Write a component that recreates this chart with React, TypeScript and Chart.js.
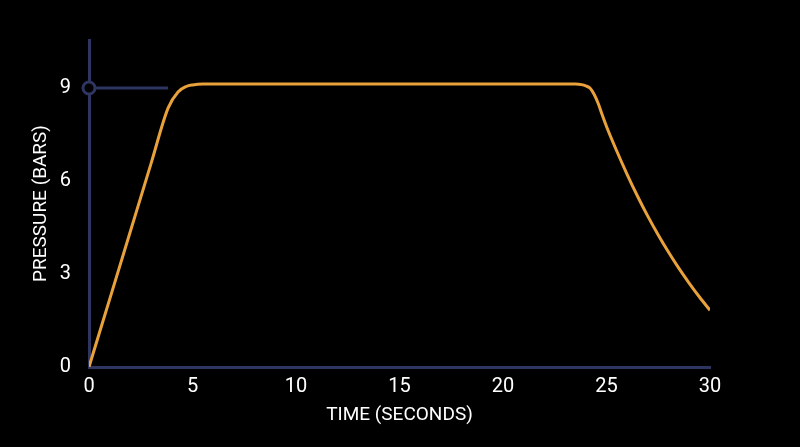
import { useEffect, useRef } from 'react'
import { Chart, registerables, type ChartConfiguration } from 'chart.js'

Chart.register(...registerables)

// pressure profile
const TIME_S = [
  0, 1, 2, 3, 3.82, 4.3, 4.7, 5, 5.5,
  23.5, 23.8, 24, 24.2, 24.4, 24.6, 24.8, 25, 25.5, 26, 26.5, 27, 27.5, 28, 28.5, 29, 29.5, 30,
]
const PRESSURE_BAR = [
  0, 2.19, 4.38, 6.57, 8.35, 8.87, 9.05, 9.1, 9.13,
  9.13, 9.11, 9.07, 9.0, 8.8, 8.5, 8.12, 7.76, 6.96, 6.21, 5.51, 4.86, 4.26, 3.7, 3.18, 2.7, 2.25, 1.83,
]

// target marker line at 9 bar
const TARGET_TIME = [0, 3.82]
const TARGET_PRESSURE = [9, 9]

const X_TICKS = [0, 5, 10, 15, 20, 25, 30]
const Y_TICKS = [0, 3, 6, 9]

const AXIS = '#2d3560'
const ORANGE = '#e9a23b'
const FONT = "'Liberation Sans Narrow', Roboto, sans-serif"

export default function App() {
  const ref = useRef<HTMLCanvasElement>(null)

  useEffect(() => {
    document.body.style.margin = '0'
    document.body.style.background = '#000'
    if (!ref.current) return

    const chart = new Chart(ref.current, {
      type: 'line',
      data: {
        datasets: [
          {
            data: TIME_S.map((t, i) => ({ x: t, y: PRESSURE_BAR[i] })),
            borderColor: ORANGE,
            borderWidth: 3,
            pointRadius: 0,
            cubicInterpolationMode: 'monotone',
            fill: false,
          },
          {
            data: TARGET_TIME.map((t, i) => ({ x: t, y: TARGET_PRESSURE[i] })),
            borderColor: AXIS,
            borderWidth: 3,
            pointRadius: [6, 0],
            pointBorderWidth: 3,
            pointBorderColor: AXIS,
            pointBackgroundColor: '#000',
            clip: false,
            order: -1,
          },
        ],
      },
      options: {
        animation: false,
        responsive: false,
        maintainAspectRatio: false,
        layout: { padding: { left: 0, right: 90, top: 40, bottom: 0 } },
        plugins: { legend: { display: false }, tooltip: { enabled: false } },
        scales: {
          x: {
            type: 'linear',
            min: 0,
            max: 30,
            grid: { display: false, drawTicks: false },
            border: { display: true, color: AXIS, width: 3 },
            afterBuildTicks: (s: any) => { s.ticks = X_TICKS.map(v => ({ value: v })) },
            afterFit: (s: any) => { s.height = 80 },
            ticks: { color: '#fff', padding: 8, font: { family: FONT, size: 20 } },
            title: {
              display: true,
              text: 'TIME (SECONDS)',
              color: '#fff',
              font: { family: FONT, size: 19 },
              padding: { top: 0, bottom: 20 },
            },
          },
          y: {
            type: 'linear',
            min: 0,
            max: 10.55,
            grid: { display: false, drawTicks: false },
            border: { display: true, color: AXIS, width: 3 },
            afterBuildTicks: (s: any) => { s.ticks = Y_TICKS.map(v => ({ value: v })) },
            afterFit: (s: any) => { s.width = 89 },
            ticks: { color: '#fff', padding: 18, font: { family: FONT, size: 20 } },
            title: {
              display: true,
              text: 'PRESSURE (BARS)',
              color: '#fff',
              font: { family: FONT, size: 19 },
              padding: { top: 30, bottom: 0 },
            },
          },
        },
      },
    } as ChartConfiguration)

    return () => { chart.destroy() }
  }, [])

  return (
    <div style={{ width: 800, height: 447, background: '#000' }}>
      <canvas ref={ref} width={800} height={447} />
    </div>
  )
}
